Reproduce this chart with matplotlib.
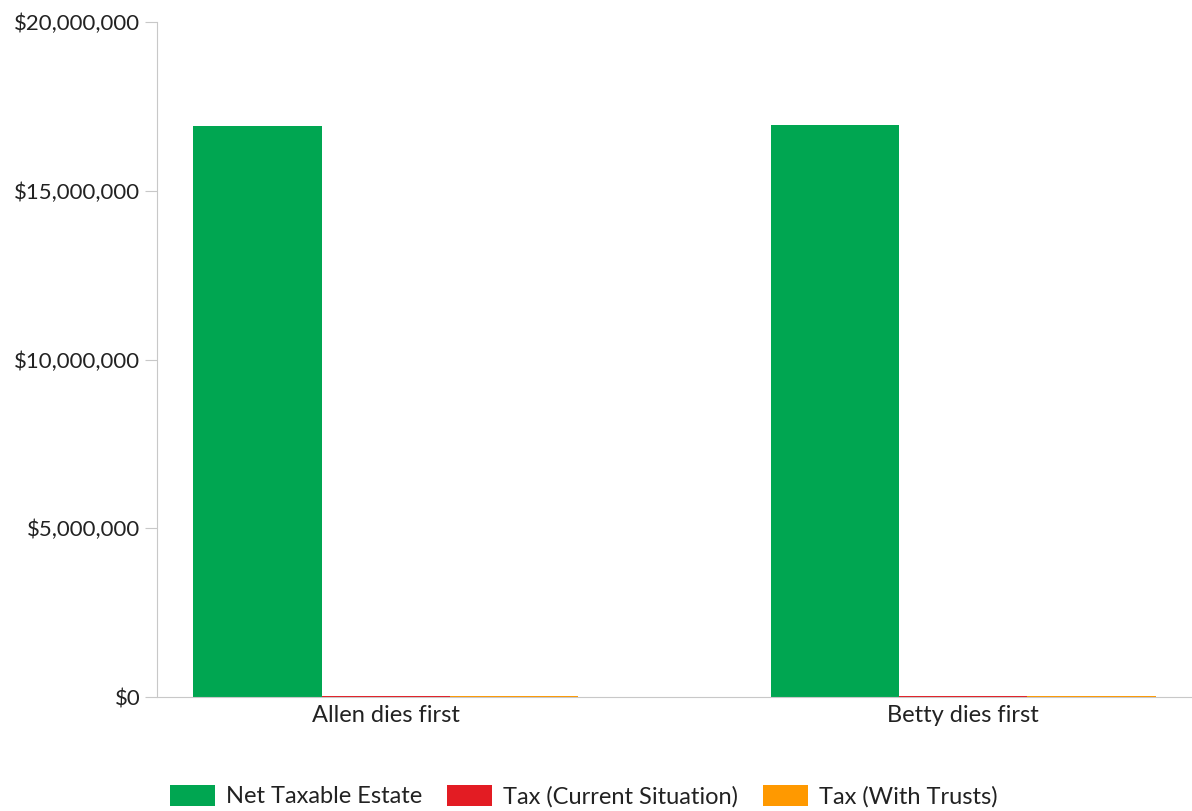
import numpy as np
import matplotlib
matplotlib.use("Agg")
from matplotlib import pyplot as plt
from matplotlib.ticker import FuncFormatter

# dados do grafico
categorias = ["Allen dies first", "Betty dies first"]
series = ["Net Taxable Estate", "Tax (Current Situation)", "Tax (With Trusts)"]
net_taxable = [16920000, 16950000]
tax_atual = [40000, 40000]
tax_trusts = [40000, 40000]
cores = ["#00a651", "#e31c23", "#ff9900"]

plt.rcParams['font.family'] = ['Lato', 'DejaVu Sans']

fig = plt.figure(figsize=(11.92, 8.11), dpi=100)
ax = fig.add_axes([157/1192, 114/811, 1 - 157/1192, (697-22)/811])

x = np.arange(len(categorias))
largura = 0.222
valores = [net_taxable, tax_atual, tax_trusts]
for i, (nome, vals) in enumerate(zip(series, valores)):
    ax.bar(x + (i - 1) * largura, vals, largura, color=cores[i], label=nome)

ax.set_xlim(-0.396, 1.396)
ax.set_ylim(0, 20000000)
ax.set_yticks(np.arange(0, 20000001, 5000000))
ax.yaxis.set_major_formatter(FuncFormatter(lambda v, p: "${:,.0f}".format(v)))
ax.set_xticks(x)
ax.set_xticklabels(categorias)

for s in ["top", "right"]:
    ax.spines[s].set_visible(False)
ax.spines["left"].set_color("#c8c8c8")
ax.spines["bottom"].set_color("#c8c8c8")
ax.tick_params(axis="y", length=9, color="#c8c8c8", labelsize=16, pad=3, labelcolor="#222222")
ax.tick_params(axis="x", length=0, labelsize=17, pad=6, labelcolor="#222222")

fig.legend(loc="center", bbox_to_anchor=(584/1192, 1 - 796/811), ncol=3,
           frameon=False, fontsize=17, handlelength=1.9, handleheight=1.0,
           columnspacing=1.05, handletextpad=0.47, labelcolor="#222222")

fig.savefig("out.png", dpi=100)
